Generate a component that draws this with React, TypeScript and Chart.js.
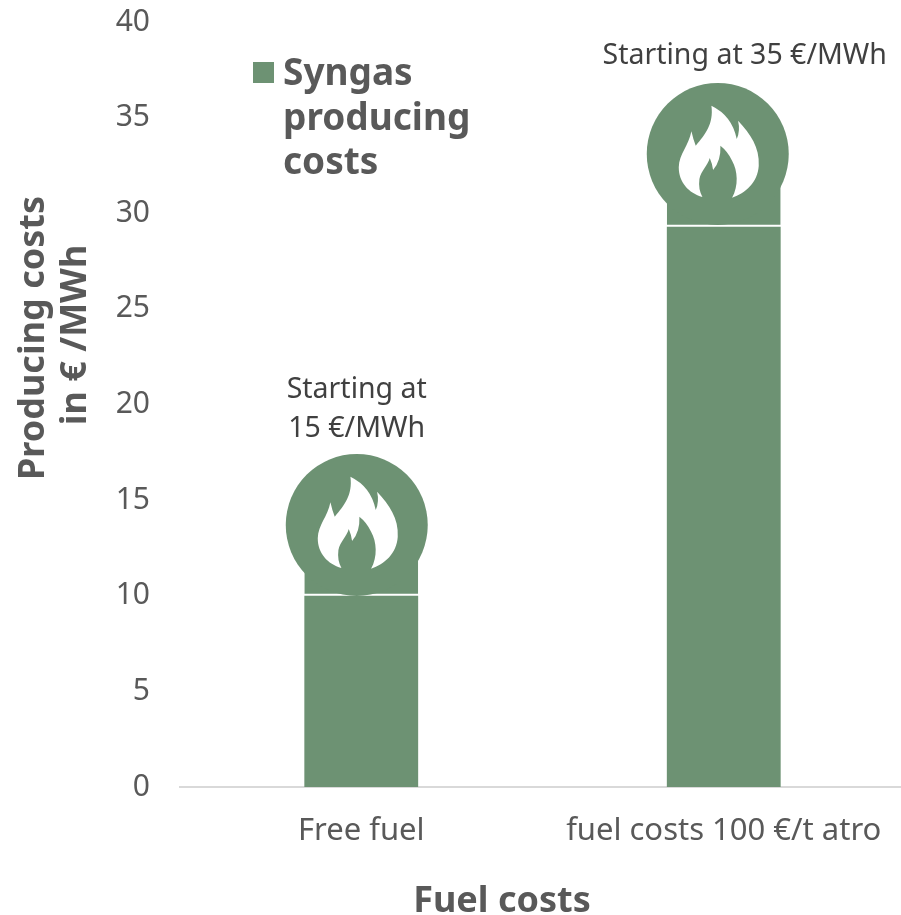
import React, { useEffect, useRef } from "react";
import { Chart, registerables } from "chart.js";

Chart.register(...registerables);

const categories = ["Free fuel", "fuel costs 100 €/t atro"];
const baseValues = [10, 29.3];
const topValues = [3.5, 3.5];
const badgeValues = [13.7, 33.1];
const badgeOffsets = [-4.5, -6];
const badgeTexts = [["Starting at", "15 €/MWh"], ["Starting at 35 €/MWh"]];
const badgeTextBaselines = [[398, 437], [64]];
const badgeTextOffsets = [-4.5, 21];
const legendLines = ["Syngas", "producing", "costs"];
const yTitle = ["Producing costs", "in € /MWh"];
const xTitle = "Fuel costs";

const GREEN = "#6d9273";
const GREY = "#595959";
const FONT = '"Noto Sans", sans-serif';

const flame = (ctx: CanvasRenderingContext2D, cx: number, cy: number) => {
  ctx.save();
  ctx.translate(cx, cy);
  ctx.scale(1 / 3, 1 / 3);
  ctx.translate(-262, -250);
  ctx.beginPath();
  ctx.moveTo(243, 105);
  ctx.quadraticCurveTo(305, 135, 319, 205);
  ctx.quadraticCurveTo(330, 180, 323, 150);
  ctx.bezierCurveTo(360, 190, 388, 230, 385, 285);
  ctx.bezierCurveTo(382, 335, 345, 368, 305, 381);
  ctx.bezierCurveTo(325, 345, 322, 300, 305, 270);
  ctx.quadraticCurveTo(292, 242, 270, 225);
  ctx.quadraticCurveTo(272, 270, 248, 298);
  ctx.quadraticCurveTo(246, 280, 238, 262);
  ctx.bezierCurveTo(232, 285, 212, 300, 207, 325);
  ctx.quadraticCurveTo(203, 355, 216, 379);
  ctx.bezierCurveTo(175, 368, 145, 335, 145, 290);
  ctx.bezierCurveTo(146, 250, 175, 225, 183, 182);
  ctx.quadraticCurveTo(188, 205, 196, 225);
  ctx.bezierCurveTo(225, 190, 250, 160, 243, 105);
  ctx.closePath();
  ctx.fillStyle = "#ffffff";
  ctx.fill();
  ctx.restore();
};

const overlay = {
  id: "overlay",
  afterDatasetsDraw(chart: any) {
    const { ctx, scales } = chart;
    ctx.save();
    badgeValues.forEach((v, i) => {
      const barX = scales.x.getPixelForValue(i);
      const cx = barX + badgeOffsets[i];
      const cy = scales.y.getPixelForValue(v);
      ctx.beginPath();
      ctx.arc(cx, cy, 71, 0, Math.PI * 2);
      ctx.fillStyle = GREEN;
      ctx.fill();
      flame(ctx, cx, cy);
      ctx.fillStyle = "#404040";
      ctx.font = `28.5px ${FONT}`;
      ctx.textAlign = "center";
      ctx.textBaseline = "alphabetic";
      badgeTexts[i].forEach((t, j) => {
        ctx.fillText(t, barX + badgeTextOffsets[i], badgeTextBaselines[i][j]);
      });
    });
    ctx.fillStyle = GREEN;
    ctx.fillRect(253, 62, 21, 21);
    ctx.fillStyle = GREY;
    ctx.font = `bold 37px ${FONT}`;
    ctx.textAlign = "left";
    legendLines.forEach((t, j) => ctx.fillText(t, 283, 85 + j * 44.5));

    ctx.font = `bold 36px ${FONT}`;
    ctx.textAlign = "center";
    ctx.fillText(xTitle, 502, 912);
    yTitle.forEach((t, j) => {
      ctx.save();
      ctx.translate(44 + j * 42, j === 0 ? 338 : 335);
      ctx.rotate(-Math.PI / 2);
      ctx.fillText(t, 0, 0);
      ctx.restore();
    });
    ctx.restore();
  },
};

export default function App() {
  const ref = useRef<HTMLCanvasElement>(null);
  useEffect(() => {
    const chart = new Chart(ref.current!, {
      type: "bar",
      data: {
        labels: categories,
        datasets: [
          {
            label: "Base",
            data: baseValues,
            backgroundColor: GREEN,
            borderWidth: 0,
            barPercentage: 0.314,
            categoryPercentage: 1,
          },
          {
            label: "Syngas producing costs",
            data: topValues,
            backgroundColor: GREEN,
            borderColor: "#ffffff",
            borderSkipped: false,
            borderWidth: { top: 0, left: 0, right: 0, bottom: 2 },
            barPercentage: 0.314,
            categoryPercentage: 1,
          },
        ],
      },
      options: {
        responsive: false,
        animation: false,
        layout: { padding: { top: 22, left: 0, right: 0, bottom: 0 } },
        plugins: { legend: { display: false }, tooltip: { enabled: false } },
        scales: {
          x: {
            stacked: true,
            grid: { display: false, drawTicks: false },
            border: { display: true, color: "#d9d9d9", width: 2 },
            ticks: { color: GREY, font: { family: FONT, size: 31 }, padding: 26, maxRotation: 0 },
            afterFit: (s: any) => {
              s.height = 128;
              s.paddingLeft = 0;
              s.paddingRight = 0;
            },
          },
          y: {
            stacked: true,
            min: 0,
            max: 40,
            grid: { display: false, drawTicks: false },
            border: { display: false },
            ticks: { stepSize: 5, color: GREY, font: { family: FONT, size: 30 }, padding: 30 },
            afterFit: (s: any) => {
              s.width = 180;
              s.paddingTop = 0;
              s.paddingBottom = 0;
            },
          },
        },
      },
      plugins: [overlay],
    } as any);
    return () => chart.destroy();
  }, []);
  return (
    <div style={{ position: "fixed", left: 0, top: 0, width: 901, height: 915, overflow: "hidden", background: "#fff" }}>
      <canvas ref={ref} width={905} height={915} style={{ display: "block" }} />
    </div>
  );
}
